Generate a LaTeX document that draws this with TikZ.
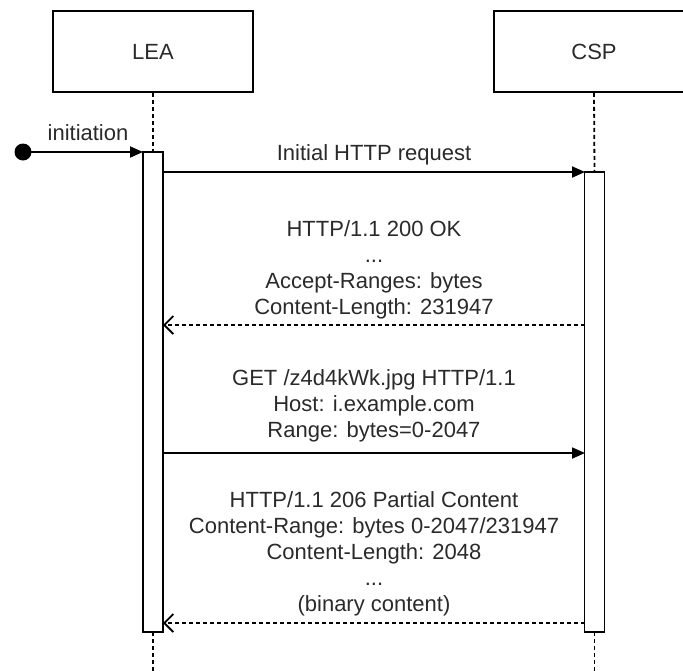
\documentclass[tikz,border=0pt]{standalone}
\usepackage{fontspec}
\setmainfont{Liberation Sans}
\usetikzlibrary{arrows.meta}
\definecolor{txt}{HTML}{2A2A2A}
\begin{document}
\begin{tikzpicture}[x=1pt,y=-1pt,
  lw/.style={line width=1.8pt},
  actor/.style={draw,lw,minimum width=200pt,minimum height=81pt,text=txt,font=\fontsize{22}{26}\selectfont},
  life/.style={lw,dash pattern=on 4pt off 3pt},
  act/.style={draw,lw,fill=white},
  lbl/.style={text=txt,font=\fontsize{22}{26}\selectfont,align=center,inner sep=0pt},
  msg/.style={lw,-{Triangle[length=13pt,width=11pt]}},
  ret/.style={lw,dash pattern=on 4pt off 3pt,-{Straight Barb[length=9pt,width=18pt]}}]
\useasboundingbox (0,0) rectangle (683,670);
% actors
\node[actor] (lea) at (153,51.5) {LEA};
\begin{scope}
\clip (0,0) rectangle (683,670);
\node[actor] (csp) at (594,51.5) {CSP};
\end{scope}
% activation bars
\node[act,minimum width=20pt,minimum height=480pt,inner sep=0pt,outer sep=0pt] (aL) at (153,392) {};
\node[act,minimum width=20pt,minimum height=460pt,inner sep=0pt,outer sep=0pt] (aC) at (594.5,402) {};
% lifelines
\draw[life] (lea.south) -- (aL.north);
\draw[life] (csp.south) -- (aC.north);
\coordinate (endL) at (153,672);
\coordinate (endC) at (594.5,672);
\draw[life] (aL.south) -- (endL);
\draw[life] (aC.south) -- (endC);
% initiation
\node[circle,fill=black,inner sep=0pt,minimum size=17pt] (start) at (23,152) {};
\draw[msg] (start.center) -- (aL.north west);
\node[lbl] (li) at (88,133) {initiation};
% messages
\coordinate (m1a) at (163,172);
\coordinate (m1b) at (585,172);
\draw[msg] (m1a) -- (m1b);
\node[lbl] (l1) at (374,155) {Initial HTTP request};
\coordinate (m2a) at (585,325);
\coordinate (m2b) at (163,325);
\draw[ret] (m2a) -- (m2b);
\node[lbl] (l2) at (374,269.5) {HTTP/1.1 200 OK\\...\\Accept-Ranges: bytes\\Content-Length: 231947};
\coordinate (m3a) at (163,453);
\coordinate (m3b) at (585,453);
\draw[msg] (m3a) -- (m3b);
\node[lbl] (l3) at (374,405.5) {GET /z4d4kWk.jpg HTTP/1.1\\Host: i.example.com\\Range: bytes=0-2047};
\coordinate (m4a) at (585,623);
\coordinate (m4b) at (163,623);
\draw[ret] (m4a) -- (m4b);
\node[lbl] (l4) at (374,553.5) {HTTP/1.1 206 Partial Content\\Content-Range: bytes 0-2047/231947\\Content-Length: 2048\\...\\(binary content)};
\end{tikzpicture}
\end{document}
